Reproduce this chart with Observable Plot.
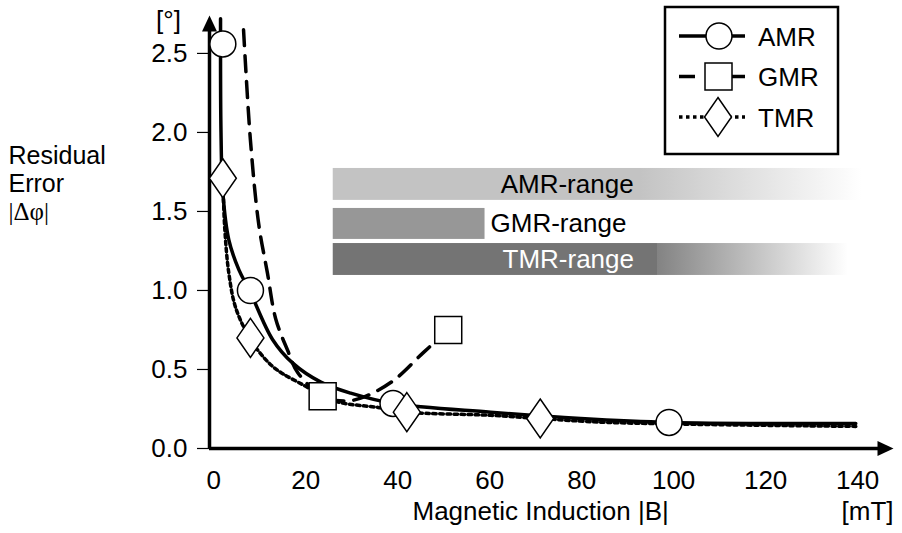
<!DOCTYPE html>
<html><head><meta charset="utf-8">
<script src="https://cdn.jsdelivr.net/npm/d3@7"></script>
<script src="https://cdn.jsdelivr.net/npm/@observablehq/plot@0.6"></script>
<style>
body{margin:0;background:#fff;}
#wrap{position:relative;width:902px;height:533px;font-family:"Liberation Sans",Arial,sans-serif;}
#legend{position:absolute;left:0;top:0;}
</style></head><body><div id="wrap"></div>
<script>
// ---------- data ----------
const seriesNames = ["AMR", "GMR", "TMR"];

const amrMarkX = [2, 8, 39, 99];
const amrMarkY = [2.56, 1.0, 0.285, 0.165];
const gmrMarkX = [23.7, 51];
const gmrMarkY = [0.33, 0.75];
const tmrMarkX = [2, 8, 42, 71];
const tmrMarkY = [1.71, 0.70, 0.23, 0.19];

const amrCurveX = [1.5, 1.6, 2.0, 3.3, 5.5, 7.8, 12.8, 17.2, 23.3, 29.8, 39.1, 60.2, 79.8, 99.3, 139.6];
const amrCurveY = [2.72, 2.0, 1.62, 1.32, 1.13, 1.0, 0.69, 0.54, 0.42, 0.35, 0.285, 0.23, 0.19, 0.165, 0.158];
const gmrCurveX = [6.5, 8.0, 9.8, 11.7, 13.5, 16.1, 18.3, 23.7, 28.7, 33.0, 39.1, 45.7, 51];
const gmrCurveY = [2.65, 1.95, 1.42, 1.11, 0.82, 0.62, 0.48, 0.33, 0.30, 0.33, 0.43, 0.61, 0.75];
const tmrCurveX = [2.0, 2.4, 3.3, 4.8, 7.8, 10.2, 12.8, 15.2, 19.6, 23.7, 27.6, 35.7, 42.2, 60.2, 71, 85.7, 139.6];
const tmrCurveY = [1.71, 1.40, 1.11, 0.89, 0.70, 0.60, 0.52, 0.47, 0.40, 0.33, 0.29, 0.26, 0.23, 0.21, 0.19, 0.165, 0.14];

const rangeNames = ["AMR-range", "GMR-range", "TMR-range"];
const rangeFrom = [26, 26, 26];
const rangeTo = [141, 59, 138];

const yTicks = [0, 0.5, 1.0, 1.5, 2.0, 2.5];
const xTicks = [0, 20, 40, 60, 80, 100, 120, 140];

// ---------- layout / style ----------
const X0 = -0.9, X1 = 147.8, YTOP = 2.74;
const barY = [[1.772, 1.57], [1.519, 1.323], [1.297, 1.095]];
const labelX = [62.4, 60.2, 62.8];
const barFill = ["url(#gAMR)", "#979797", "url(#gTMR)"];
const labelFill = ["black", "black", "white"];
const FONT = '"Liberation Sans", Arial, sans-serif';
const FS = 26;

const pts = (xs, ys) => xs.map((x, i) => ({x, y: ys[i]}));
const bars = rangeNames.map((n, i) => ({name: n, x1: rangeFrom[i], x2: rangeTo[i], y1: barY[i][1], y2: barY[i][0], lx: labelX[i], fill: barFill[i], tf: labelFill[i]}));

const triUp = {draw(c){c.moveTo(0,0);c.lineTo(7.5,16);c.lineTo(-7.5,16);c.closePath();}};
const triRight = {draw(c){c.moveTo(0,0);c.lineTo(-16,7.5);c.lineTo(-16,-7.5);c.closePath();}};
const sq = {draw(c){c.rect(-13.5,-13.5,27,27);}};
const dia = {draw(c){c.moveTo(0,-19.5);c.lineTo(13.5,0);c.lineTo(0,19.5);c.lineTo(-13.5,0);c.closePath();}};

const plot = Plot.plot({
  width: 902, height: 533,
  marginLeft: 209, marginRight: 9, marginTop: 15, marginBottom: 85,
  x: {domain: [X0, X1]},
  y: {domain: [0, YTOP]},
  style: {fontFamily: FONT, fontSize: FS + "px", background: "white", color: "black", overflow: "visible"},
  marks: [
    Plot.rect(bars, {x1: "x1", x2: "x2", y1: "y1", y2: "y2", fill: d => d.fill}),
    Plot.text(bars, {x: "lx", y: d => (d.y1 + d.y2) / 2, text: "name", textAnchor: "start", lineAnchor: "middle", fill: d => d.tf, fontSize: FS}),
    Plot.axisY(yTicks, {tickSize: 12, tickPadding: 10, tickFormat: d3.format(".1f"), fontSize: FS, strokeWidth: 1.2, label: null}),
    Plot.axisX(xTicks, {tickSize: 0, tickPadding: 22, fontSize: FS, label: null}),
    Plot.ruleX([X0], {y1: 0, y2: 2.7, strokeWidth: 3.5}),
    Plot.ruleY([0], {x1: X0, x2: X1 - 1, strokeWidth: 3.5}),
    Plot.dot([{x: X0, y: YTOP}], {x: "x", y: "y", symbol: triUp, fill: "black", r: 5}),
    Plot.dot([{x: X1, y: 0}], {x: "x", y: "y", symbol: triRight, fill: "black", r: 5}),
    Plot.line(pts(amrCurveX, amrCurveY), {x: "x", y: "y", curve: "catmull-rom", stroke: "black", strokeWidth: 3.5}),
    Plot.line(pts(gmrCurveX, gmrCurveY), {x: "x", y: "y", curve: "catmull-rom", stroke: "black", strokeWidth: 3.5, strokeDasharray: "16,10"}),
    Plot.line(pts(tmrCurveX, tmrCurveY), {x: "x", y: "y", curve: "catmull-rom", stroke: "black", strokeWidth: 3.5, strokeDasharray: "3.5,3.5"}),
    Plot.dot(pts(amrMarkX, amrMarkY), {x: "x", y: "y", r: 13, fill: "white", stroke: "black", strokeWidth: 1.5}),
    Plot.dot(pts(gmrMarkX, gmrMarkY), {x: "x", y: "y", r: 10, symbol: sq, fill: "white", stroke: "black", strokeWidth: 1.5}),
    Plot.dot(pts(tmrMarkX, tmrMarkY), {x: "x", y: "y", r: 10, symbol: dia, fill: "white", stroke: "black", strokeWidth: 1.5}),
    Plot.text(["[°]"], {frameAnchor: "top-left", dx: -41, dy: 13, textAnchor: "middle", lineAnchor: "bottom", fontSize: FS}),
    Plot.text(["Residual"], {frameAnchor: "top-left", dx: -201, dy: 131, textAnchor: "start", lineAnchor: "top", fontSize: 25}),
    Plot.text(["Error"], {frameAnchor: "top-left", dx: -201, dy: 159, textAnchor: "start", lineAnchor: "top", fontSize: 25}),
    Plot.text(["|Δφ|"], {frameAnchor: "top-left", dx: -201, dy: 187, textAnchor: "start", lineAnchor: "top", fontSize: 25, fontFamily: '"Liberation Serif", "Times New Roman", serif'}),
    Plot.text(["Magnetic Induction |B|"], {frameAnchor: "bottom-left", dx: 203, dy: 71, textAnchor: "start", lineAnchor: "bottom", fontSize: FS}),
    Plot.text(["[mT]"], {frameAnchor: "bottom-right", dx: 0, dy: 71, textAnchor: "end", lineAnchor: "bottom", fontSize: FS})
  ]
});

// gradients for the fading range bars
const defs = d3.select(plot).insert("defs", ":first-child");
const gA = defs.append("linearGradient").attr("id", "gAMR");
gA.append("stop").attr("offset", 0).attr("stop-color", "#c3c3c3");
gA.append("stop").attr("offset", 0.58).attr("stop-color", "#c3c3c3");
gA.append("stop").attr("offset", 1).attr("stop-color", "#ffffff");
const gT = defs.append("linearGradient").attr("id", "gTMR");
gT.append("stop").attr("offset", 0).attr("stop-color", "#747474");
gT.append("stop").attr("offset", 0.63).attr("stop-color", "#747474");
gT.append("stop").attr("offset", 0.63).attr("stop-color", "#838383");
gT.append("stop").attr("offset", 1).attr("stop-color", "#ffffff");

const wrap = document.getElementById("wrap");
wrap.appendChild(plot);

// legend (drawn above the plot)
const legendStyles = [
  {dash: null, sym: "circle"},
  {dash: "16,10", sym: "square"},
  {dash: "3.5,3.5", sym: "diamond"}
];
const lg = d3.select(wrap).append("svg").attr("id", "legend").attr("width", 902).attr("height", 170)
  .style("font-family", FONT);
lg.append("rect").attr("x", 665).attr("y", 7).attr("width", 173).attr("height", 147)
  .attr("fill", "white").attr("stroke", "black").attr("stroke-width", 2.5);
seriesNames.forEach((name, i) => {
  const cy = 36 + i * 40.5;
  const st = legendStyles[i];
  lg.append("line").attr("x1", 679).attr("x2", 745).attr("y1", cy).attr("y2", cy)
    .attr("stroke", "black").attr("stroke-width", 3.5).attr("stroke-dasharray", st.dash);
  let p;
  if (st.sym === "circle") p = lg.append("circle").attr("cx", 719).attr("cy", cy).attr("r", 13);
  else if (st.sym === "square") p = lg.append("rect").attr("x", 705).attr("y", cy - 13.5).attr("width", 27).attr("height", 27);
  else p = lg.append("path").attr("d", `M718,${cy - 19.5}L731.5,${cy}L718,${cy + 19.5}L704.5,${cy}Z`);
  p.attr("fill", "white").attr("stroke", "black").attr("stroke-width", 1.5);
  lg.append("text").attr("x", 758).attr("y", cy + 9.5).attr("font-size", 26).text(name);
});
</script></body></html>
